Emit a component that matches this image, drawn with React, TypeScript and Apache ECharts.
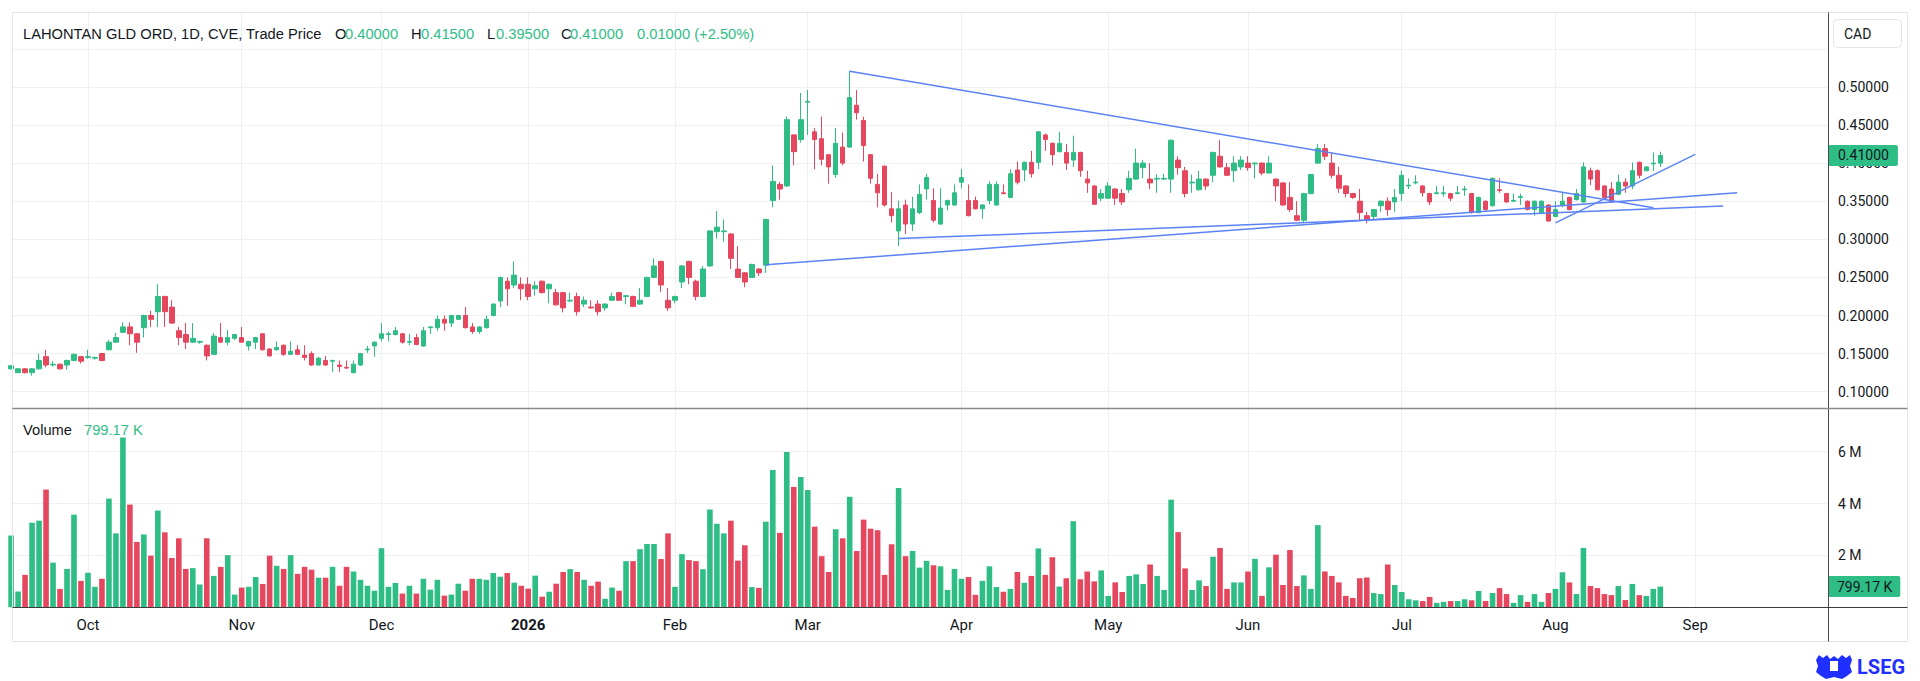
import React, { useEffect, useRef } from 'react';
import * as echarts from 'echarts';

// ---- trading-day calendar (day numbers per month) ----
const SEP_2025 = [16, 17, 18, 19, 22, 23, 24, 25, 26, 29, 30];
const OCT_2025 = [1, 2, 3, 6, 7, 8, 9, 10, 14, 15, 16, 17, 20, 21, 22, 23, 24, 27, 28, 29, 30, 31];
const NOV_2025 = [3, 4, 5, 6, 7, 10, 11, 12, 13, 14, 17, 18, 19, 20, 21, 24, 25, 26, 27, 28];
const DEC_2025 = [1, 2, 3, 4, 5, 8, 9, 10, 11, 12, 15, 16, 17, 18, 19, 22, 23, 24, 29, 30, 31];
const JAN_2026 = [2, 5, 6, 7, 8, 9, 12, 13, 14, 15, 16, 19, 20, 21, 22, 23, 26, 27, 28, 29, 30];
const FEB_2026 = [2, 3, 4, 5, 6, 9, 10, 11, 12, 13, 17, 18, 19, 20, 23, 24, 25, 26, 27];
const MAR_2026 = [2, 3, 4, 5, 6, 9, 10, 11, 12, 13, 16, 17, 18, 19, 20, 23, 24, 25, 26, 27, 30, 31];
const APR_2026 = [1, 2, 6, 7, 8, 9, 10, 13, 14, 15, 16, 17, 20, 21, 22, 23, 24, 27, 28, 29, 30];
const MAY_2026 = [1, 4, 5, 6, 7, 8, 11, 12, 13, 14, 15, 19, 20, 21, 22, 25, 26, 27, 28, 29];
const JUN_2026 = [1, 2, 3, 4, 5, 8, 9, 10, 11, 12, 15, 16, 17, 18, 19, 22, 23, 24, 25, 26, 29, 30];
const JUL_2026 = [2, 3, 6, 7, 8, 9, 10, 13, 14, 15, 16, 17, 20, 21, 22, 23, 24, 27, 28, 29, 30, 31];
const AUG_2026 = [4, 5, 6, 7, 10, 11, 12, 13, 14, 17, 18, 19, 20, 21, 24, 25, 26, 27, 28, 31];
const SEP_2026 = [1, 2, 3, 4, 8, 9, 10, 11, 14, 15, 16, 17, 18, 21, 22, 23, 24, 25, 28, 29];

const MONTHS: [number, number, number[]][] = [
  [2025, 9, SEP_2025], [2025, 10, OCT_2025], [2025, 11, NOV_2025], [2025, 12, DEC_2025],
  [2026, 1, JAN_2026], [2026, 2, FEB_2026], [2026, 3, MAR_2026], [2026, 4, APR_2026],
  [2026, 5, MAY_2026], [2026, 6, JUN_2026], [2026, 7, JUL_2026], [2026, 8, AUG_2026],
  [2026, 9, SEP_2026],
];
const MONTH_NAMES = ['Jan', 'Feb', 'Mar', 'Apr', 'May', 'Jun', 'Jul', 'Aug', 'Sep', 'Oct', 'Nov', 'Dec'];

// ---- daily prices (CAD) ----
const OPEN = [
  0.130, 0.125, 0.130, 0.125, 0.130, 0.146, 0.135, 0.136, 0.135, 0.141,
  0.146, 0.145, 0.144, 0.150, 0.155, 0.165, 0.178, 0.185, 0.176, 0.184,
  0.200, 0.205, 0.225, 0.211, 0.180, 0.175, 0.165, 0.165, 0.161, 0.149,
  0.171, 0.165, 0.170, 0.171, 0.160, 0.165, 0.176, 0.156, 0.155, 0.161,
  0.149, 0.155, 0.148, 0.150, 0.135, 0.141, 0.140, 0.135, 0.132, 0.125,
  0.135, 0.155, 0.160, 0.170, 0.175, 0.175, 0.176, 0.165, 0.171, 0.160,
  0.184, 0.184, 0.195, 0.190, 0.195, 0.200, 0.185, 0.179, 0.184, 0.200,
  0.219, 0.245, 0.240, 0.241, 0.241, 0.235, 0.245, 0.235, 0.230, 0.230,
  0.219, 0.225, 0.215, 0.211, 0.215, 0.210, 0.220, 0.230, 0.225, 0.225,
  0.215, 0.225, 0.250, 0.271, 0.220, 0.220, 0.244, 0.271, 0.245, 0.225,
  0.265, 0.310, 0.310, 0.307, 0.261, 0.256, 0.250, 0.261, 0.266, 0.351,
  0.372, 0.370, 0.437, 0.431, 0.480, 0.441, 0.432, 0.411, 0.385, 0.421,
  0.421, 0.476, 0.456, 0.411, 0.372, 0.396, 0.340, 0.311, 0.345, 0.320,
  0.335, 0.366, 0.351, 0.320, 0.345, 0.345, 0.375, 0.351, 0.351, 0.340,
  0.351, 0.345, 0.361, 0.355, 0.391, 0.391, 0.401, 0.401, 0.437, 0.426,
  0.415, 0.414, 0.404, 0.414, 0.379, 0.370, 0.354, 0.354, 0.366, 0.360,
  0.365, 0.379, 0.394, 0.379, 0.379, 0.379, 0.379, 0.404, 0.390, 0.374,
  0.365, 0.379, 0.384, 0.409, 0.394, 0.390, 0.395, 0.400, 0.399, 0.400,
  0.387, 0.379, 0.374, 0.355, 0.331, 0.325, 0.360, 0.400, 0.419, 0.400,
  0.384, 0.370, 0.360, 0.350, 0.331, 0.330, 0.344, 0.350, 0.349, 0.360,
  0.370, 0.374, 0.370, 0.360, 0.360, 0.360, 0.360, 0.360, 0.365, 0.360,
  0.335, 0.350, 0.344, 0.365, 0.360, 0.350, 0.355, 0.350, 0.339, 0.335,
  0.345, 0.330, 0.345, 0.355, 0.352, 0.349, 0.390, 0.390, 0.370, 0.366,
  0.359, 0.375, 0.370, 0.401, 0.390, 0.399, 0.400,
];
const CLOSE = [
  0.134, 0.130, 0.125, 0.130, 0.141, 0.135, 0.136, 0.130, 0.141, 0.149,
  0.140, 0.146, 0.145, 0.141, 0.165, 0.171, 0.185, 0.176, 0.165, 0.200,
  0.195, 0.225, 0.205, 0.190, 0.171, 0.165, 0.170, 0.166, 0.147, 0.173,
  0.165, 0.171, 0.175, 0.165, 0.166, 0.171, 0.155, 0.147, 0.158, 0.149,
  0.153, 0.149, 0.145, 0.135, 0.144, 0.135, 0.141, 0.133, 0.131, 0.136,
  0.150, 0.156, 0.165, 0.176, 0.176, 0.180, 0.165, 0.166, 0.162, 0.180,
  0.185, 0.195, 0.190, 0.200, 0.200, 0.184, 0.179, 0.185, 0.195, 0.215,
  0.250, 0.235, 0.253, 0.235, 0.225, 0.239, 0.230, 0.241, 0.214, 0.210,
  0.220, 0.205, 0.220, 0.210, 0.205, 0.215, 0.225, 0.220, 0.226, 0.212,
  0.220, 0.250, 0.265, 0.240, 0.210, 0.225, 0.265, 0.250, 0.225, 0.261,
  0.311, 0.316, 0.311, 0.275, 0.250, 0.244, 0.267, 0.256, 0.326, 0.376,
  0.366, 0.457, 0.415, 0.457, 0.481, 0.431, 0.405, 0.395, 0.426, 0.400,
  0.486, 0.466, 0.423, 0.380, 0.361, 0.345, 0.331, 0.340, 0.320, 0.340,
  0.359, 0.381, 0.325, 0.341, 0.351, 0.361, 0.381, 0.331, 0.340, 0.345,
  0.372, 0.372, 0.360, 0.386, 0.375, 0.401, 0.386, 0.441, 0.431, 0.411,
  0.426, 0.400, 0.414, 0.390, 0.374, 0.346, 0.360, 0.370, 0.354, 0.349,
  0.380, 0.400, 0.400, 0.374, 0.380, 0.380, 0.430, 0.394, 0.360, 0.375,
  0.379, 0.370, 0.414, 0.395, 0.384, 0.400, 0.404, 0.394, 0.400, 0.387,
  0.400, 0.370, 0.345, 0.339, 0.325, 0.360, 0.385, 0.419, 0.409, 0.384,
  0.367, 0.360, 0.355, 0.335, 0.325, 0.339, 0.350, 0.339, 0.355, 0.384,
  0.371, 0.375, 0.361, 0.349, 0.361, 0.361, 0.354, 0.361, 0.366, 0.335,
  0.355, 0.339, 0.380, 0.364, 0.349, 0.351, 0.356, 0.339, 0.350, 0.350,
  0.324, 0.339, 0.350, 0.339, 0.360, 0.395, 0.379, 0.365, 0.355, 0.349,
  0.375, 0.370, 0.390, 0.384, 0.395, 0.400, 0.410,
];
const LOW = [
  0.129, 0.125, 0.124, 0.121, 0.129, 0.132, 0.133, 0.129, 0.129, 0.140,
  0.137, 0.143, 0.142, 0.140, 0.154, 0.164, 0.177, 0.161, 0.151, 0.171,
  0.185, 0.185, 0.185, 0.189, 0.161, 0.156, 0.164, 0.163, 0.141, 0.148,
  0.164, 0.161, 0.168, 0.164, 0.154, 0.156, 0.154, 0.146, 0.154, 0.147,
  0.148, 0.148, 0.141, 0.134, 0.134, 0.134, 0.126, 0.126, 0.130, 0.124,
  0.134, 0.151, 0.146, 0.166, 0.166, 0.174, 0.163, 0.161, 0.161, 0.159,
  0.176, 0.180, 0.180, 0.185, 0.194, 0.183, 0.176, 0.176, 0.183, 0.199,
  0.211, 0.213, 0.236, 0.220, 0.220, 0.226, 0.229, 0.216, 0.213, 0.204,
  0.218, 0.200, 0.211, 0.209, 0.200, 0.206, 0.219, 0.219, 0.215, 0.211,
  0.214, 0.224, 0.249, 0.231, 0.206, 0.216, 0.236, 0.241, 0.220, 0.224,
  0.264, 0.301, 0.297, 0.261, 0.249, 0.237, 0.249, 0.252, 0.256, 0.342,
  0.352, 0.369, 0.397, 0.427, 0.437, 0.392, 0.397, 0.373, 0.381, 0.397,
  0.420, 0.457, 0.402, 0.373, 0.342, 0.343, 0.322, 0.291, 0.307, 0.311,
  0.333, 0.352, 0.322, 0.319, 0.338, 0.344, 0.367, 0.330, 0.339, 0.327,
  0.346, 0.344, 0.359, 0.354, 0.372, 0.376, 0.381, 0.392, 0.416, 0.397,
  0.414, 0.391, 0.395, 0.382, 0.361, 0.345, 0.350, 0.353, 0.345, 0.345,
  0.361, 0.378, 0.380, 0.366, 0.361, 0.378, 0.361, 0.385, 0.355, 0.361,
  0.364, 0.365, 0.375, 0.394, 0.383, 0.375, 0.391, 0.390, 0.380, 0.384,
  0.386, 0.350, 0.344, 0.336, 0.324, 0.321, 0.359, 0.399, 0.404, 0.380,
  0.361, 0.355, 0.353, 0.325, 0.321, 0.326, 0.336, 0.331, 0.336, 0.350,
  0.366, 0.372, 0.356, 0.345, 0.359, 0.356, 0.350, 0.359, 0.357, 0.334,
  0.334, 0.338, 0.343, 0.361, 0.348, 0.349, 0.345, 0.338, 0.331, 0.334,
  0.323, 0.329, 0.342, 0.338, 0.351, 0.348, 0.371, 0.364, 0.352, 0.348,
  0.358, 0.361, 0.366, 0.380, 0.389, 0.390, 0.395,
];
const HIGH = [
  0.135, 0.131, 0.131, 0.131, 0.150, 0.155, 0.140, 0.137, 0.142, 0.150,
  0.147, 0.155, 0.146, 0.151, 0.168, 0.177, 0.191, 0.191, 0.177, 0.201,
  0.206, 0.241, 0.226, 0.220, 0.185, 0.190, 0.190, 0.167, 0.162, 0.177,
  0.190, 0.181, 0.176, 0.185, 0.167, 0.172, 0.177, 0.157, 0.166, 0.162,
  0.166, 0.161, 0.161, 0.153, 0.146, 0.147, 0.142, 0.141, 0.141, 0.141,
  0.151, 0.160, 0.166, 0.190, 0.179, 0.185, 0.177, 0.176, 0.176, 0.185,
  0.186, 0.200, 0.200, 0.201, 0.201, 0.211, 0.190, 0.186, 0.200, 0.216,
  0.251, 0.250, 0.271, 0.250, 0.250, 0.245, 0.246, 0.242, 0.235, 0.231,
  0.230, 0.230, 0.225, 0.220, 0.220, 0.216, 0.230, 0.231, 0.227, 0.226,
  0.236, 0.251, 0.275, 0.272, 0.236, 0.226, 0.266, 0.272, 0.247, 0.265,
  0.312, 0.337, 0.326, 0.308, 0.291, 0.257, 0.268, 0.262, 0.327, 0.397,
  0.375, 0.461, 0.438, 0.492, 0.496, 0.446, 0.461, 0.412, 0.446, 0.440,
  0.521, 0.496, 0.461, 0.412, 0.386, 0.397, 0.362, 0.351, 0.352, 0.356,
  0.372, 0.386, 0.367, 0.367, 0.352, 0.372, 0.392, 0.372, 0.356, 0.346,
  0.376, 0.376, 0.372, 0.392, 0.402, 0.402, 0.416, 0.442, 0.439, 0.427,
  0.441, 0.425, 0.436, 0.415, 0.390, 0.371, 0.366, 0.375, 0.367, 0.366,
  0.390, 0.419, 0.404, 0.400, 0.385, 0.386, 0.431, 0.409, 0.395, 0.385,
  0.390, 0.380, 0.415, 0.430, 0.400, 0.409, 0.409, 0.409, 0.401, 0.401,
  0.409, 0.380, 0.375, 0.375, 0.350, 0.361, 0.386, 0.425, 0.425, 0.414,
  0.395, 0.371, 0.361, 0.366, 0.336, 0.340, 0.351, 0.355, 0.366, 0.390,
  0.380, 0.384, 0.371, 0.361, 0.370, 0.370, 0.361, 0.370, 0.370, 0.361,
  0.356, 0.351, 0.381, 0.380, 0.361, 0.360, 0.360, 0.351, 0.351, 0.351,
  0.346, 0.350, 0.361, 0.356, 0.366, 0.401, 0.394, 0.392, 0.371, 0.375,
  0.385, 0.380, 0.401, 0.402, 0.396, 0.414, 0.415,
];
// ---- daily volume, millions of shares ----
const VOLUME_M = [
  2.77, 0.61, 1.25, 3.26, 3.34, 4.54, 1.72, 0.71, 1.48, 3.57,
  1.02, 1.33, 0.79, 1.10, 4.19, 2.85, 6.55, 3.96, 2.52, 2.81,
  1.99, 3.73, 2.89, 1.90, 2.66, 1.48, 1.51, 0.88, 2.66, 1.21,
  1.56, 2.01, 0.49, 0.76, 0.79, 1.17, 0.90, 1.99, 1.60, 1.48,
  2.01, 1.29, 1.56, 1.45, 1.14, 1.14, 1.56, 0.83, 1.56, 1.38,
  1.06, 0.83, 0.64, 2.28, 0.79, 0.94, 0.53, 0.83, 0.53, 1.10,
  0.68, 1.06, 0.45, 0.49, 0.91, 0.64, 1.10, 1.10, 1.06, 1.32,
  1.18, 1.32, 0.95, 0.83, 0.72, 1.22, 0.41, 0.60, 0.91, 1.36,
  1.47, 1.36, 1.06, 0.83, 0.99, 0.33, 0.76, 0.64, 1.78, 1.78,
  2.24, 2.44, 2.44, 1.86, 2.85, 0.79, 2.05, 1.82, 1.78, 1.47,
  3.77, 3.22, 2.85, 3.34, 1.80, 2.39, 0.78, 0.75, 3.30, 5.29,
  2.87, 5.99, 4.64, 5.02, 4.52, 3.11, 1.97, 1.36, 3.01, 2.66,
  4.26, 2.17, 3.38, 3.03, 2.97, 1.25, 2.43, 4.60, 1.97, 2.17,
  1.53, 1.79, 1.62, 1.58, 0.67, 1.48, 1.10, 1.17, 0.48, 1.02,
  1.58, 0.78, 0.60, 0.71, 1.36, 0.95, 1.21, 2.27, 1.25, 1.93,
  0.80, 1.12, 3.32, 1.08, 1.38, 1.00, 1.42, 0.44, 0.96, 0.59,
  1.21, 1.27, 0.90, 1.65, 1.21, 0.67, 4.15, 2.90, 1.50, 0.67,
  1.04, 0.82, 1.95, 2.29, 0.71, 0.96, 0.96, 1.38, 1.87, 0.44,
  1.54, 2.03, 0.86, 2.21, 0.82, 1.23, 0.71, 3.17, 1.38, 1.21,
  0.96, 0.44, 0.36, 1.12, 1.15, 0.55, 0.51, 1.65, 0.86, 0.59,
  0.31, 0.27, 0.24, 0.40, 0.17, 0.21, 0.24, 0.24, 0.31, 0.27,
  0.63, 0.24, 0.55, 0.74, 0.51, 0.17, 0.47, 0.21, 0.51, 0.21,
  0.55, 0.71, 1.35, 0.96, 0.51, 2.29, 0.82, 0.74, 0.51, 0.47,
  0.82, 0.28, 0.90, 0.47, 0.44, 0.71, 0.79917,
];
// ---- drawn trend lines: [date, price] -> [date, price] ----
const TREND_LINES: [string, number][][] = [
  [['2026-03-10', 0.5206], ['2026-08-24', 0.3415]],
  [['2026-02-20', 0.2665], ['2026-09-10', 0.3612]],
  [['2026-03-19', 0.3009], ['2026-09-08', 0.3437]],
  [['2026-08-04', 0.3215], ['2026-09-01', 0.4115]],
];
const PRICE_TICKS_SHOWN = [0.10, 0.15, 0.20, 0.25, 0.30, 0.35, 0.40, 0.45, 0.50];

const UP = '#2ebd85';
const DOWN = '#e5475f';
const TEXT = '#131722';
const GRID = '#eef0f3';
const TREND = '#5b82f5';
const FONT = 'Roboto, "Noto Sans", sans-serif';
const TITLE_FONT = '"Liberation Sans", Arial, sans-serif';

const pad = (n: number) => (n < 10 ? '0' + n : '' + n);
const DATES: string[] = [];
MONTHS.forEach(([y, m, days]) => days.forEach((d) => DATES.push(`${y}-${pad(m)}-${pad(d)}`)));
const isMonthStart = (i: number) => i > 0 && DATES[i].slice(0, 7) !== DATES[i - 1].slice(0, 7);

function buildOption(): any {
  const n = CLOSE.length;
  const candles = OPEN.map((o, i) => [o, CLOSE[i], LOW[i], HIGH[i]]);
  const vols = VOLUME_M.map((v, i) => ({
    value: v * 1e6,
    itemStyle: { color: CLOSE[i] >= OPEN[i] ? UP : DOWN },
  }));
  const lastO = OPEN[n - 1], lastH = HIGH[n - 1], lastL = LOW[n - 1], lastC = CLOSE[n - 1];
  const chg = lastC - CLOSE[n - 2];
  const pct = (chg / CLOSE[n - 2]) * 100;
  const lastVol = VOLUME_M[n - 1];
  const lastVolText = (lastVol * 1000).toFixed(2) + ' K';

  const splitColors = [];
  for (let v = 0.05; v <= 0.6001; v += 0.05) {
    splitColors.push(v < 0.075 || v > 0.575 ? 'rgba(0,0,0,0)' : GRID);
  }

  const txt = (x: number, y: number, text: string, fill: string, extra: any = {}) => ({
    type: 'text', x, y, z: 100, silent: true,
    style: { text, fill, fontSize: 14.7, fontFamily: TITLE_FONT, verticalAlign: 'middle', align: 'left', ...extra },
  });

  const xCommon = {
    type: 'category',
    data: DATES,
    boundaryGap: false,
    axisLine: { show: false },
    axisTick: { show: false },
    splitLine: { show: true, interval: (i: number) => isMonthStart(i), lineStyle: { color: GRID, width: 1 } },
  };

  return {
    animation: false,
    backgroundColor: '#ffffff',
    grid: [
      { left: 11.1, right: 92, top: 10.7, bottom: 251.2 },
      { left: 11.1, right: 92, top: 408.5, bottom: 73.7 },
    ],
    xAxis: [
      { ...xCommon, gridIndex: 0, axisLabel: { show: false } },
      {
        ...xCommon,
        gridIndex: 1,
        axisLabel: {
          show: true,
          interval: (i: number) => isMonthStart(i),
          margin: 10,
          color: TEXT,
          fontSize: 15,
          fontFamily: FONT,
          formatter: (val: string) => {
            const y = val.slice(0, 4);
            const m = parseInt(val.slice(5, 7), 10);
            return m === 1 ? `{b|${y}}` : MONTH_NAMES[m - 1];
          },
          rich: { b: { fontWeight: 'bold', fontSize: 15, color: TEXT, fontFamily: FONT } },
        },
      },
    ],
    yAxis: [
      {
        type: 'value', gridIndex: 0, position: 'right', scale: true,
        min: 0.05, max: 0.6, interval: 0.05,
        axisLine: { show: false }, axisTick: { show: false },
        axisLabel: {
          color: TEXT, fontSize: 14, fontFamily: FONT, margin: 10,
          formatter: (v: number) =>
            PRICE_TICKS_SHOWN.some((t) => Math.abs(t - v) < 1e-6) ? v.toFixed(5) : '',
        },
        splitLine: { show: true, lineStyle: { color: splitColors, width: 1 } },
      },
      {
        type: 'value', gridIndex: 1, position: 'right',
        min: 0, max: 7.664e6, interval: 2e6,
        axisLine: { show: false }, axisTick: { show: false },
        axisLabel: {
          color: TEXT, fontSize: 14, fontFamily: FONT, margin: 10,
          formatter: (v: number) => (v <= 0 || v > 7e6 ? '' : v / 1e6 + ' M'),
        },
        splitLine: { show: true, lineStyle: { color: GRID, width: 1 } },
      },
    ],
    series: [
      {
        type: 'candlestick',
        xAxisIndex: 0, yAxisIndex: 0,
        data: candles,
        barWidth: 5,
        itemStyle: { color: UP, color0: DOWN, borderColor: UP, borderColor0: DOWN, borderWidth: 1 },
        markLine: {
          silent: true, symbol: ['none', 'none'], animation: false,
          lineStyle: { color: 'rgba(0,0,0,0)', width: 0 },
          data: [{ yAxis: lastC }],
          label: {
            show: true, position: 'end', distance: 0,
            formatter: lastC.toFixed(5),
            color: TEXT, backgroundColor: UP, padding: [4, 9, 3, 10], borderRadius: 2,
            fontSize: 14, fontFamily: FONT,
          },
        },
      },
      ...TREND_LINES.map((seg) => ({
        type: 'line',
        xAxisIndex: 0, yAxisIndex: 0,
        data: seg,
        symbol: 'none', showSymbol: false, silent: true, z: 5,
        lineStyle: { color: TREND, width: 1.5 },
      })),
      {
        type: 'bar',
        xAxisIndex: 1, yAxisIndex: 1,
        data: vols,
        barWidth: 5.6,
        markLine: {
          silent: true, symbol: ['none', 'none'], animation: false,
          lineStyle: { color: 'rgba(0,0,0,0)', width: 0 },
          data: [{ yAxis: lastVol * 1e6 }],
          label: {
            show: true, position: 'end', distance: 0,
            formatter: lastVolText,
            color: TEXT, backgroundColor: UP, padding: [4, 8, 3, 9], borderRadius: 2,
            fontSize: 14, fontFamily: FONT,
          },
        },
      },
    ],
    graphic: [
      // frame and pane separators
      { type: 'rect', z: 100, silent: true, shape: { x: 12.5, y: 12.5, width: 1895, height: 629 }, style: { fill: 'none', stroke: '#e3e5ea', lineWidth: 1 } },
      { type: 'line', z: 100, silent: true, shape: { x1: 1828.5, y1: 12.5, x2: 1828.5, y2: 641.5 }, style: { stroke: '#4a4a4a', lineWidth: 1 } },
      { type: 'line', z: 100, silent: true, shape: { x1: 12.5, y1: 408.5, x2: 1907.5, y2: 408.5 }, style: { stroke: '#8a8a8a', lineWidth: 1.6 } },
      { type: 'line', z: 100, silent: true, shape: { x1: 12.5, y1: 607.5, x2: 1907.5, y2: 607.5 }, style: { stroke: '#3c3c3c', lineWidth: 1 } },
      // currency box
      { type: 'rect', z: 100, silent: true, shape: { x: 1833.5, y: 19.5, width: 68, height: 28, r: 4 }, style: { fill: '#ffffff', stroke: '#e3e5ea', lineWidth: 1 } },
      txt(1844, 33.5, 'CAD', TEXT, { fontSize: 14, fontFamily: FONT }),
      // legend row
      txt(23, 33.5, 'LAHONTAN GLD ORD, 1D, CVE, Trade Price', TEXT),
      txt(335, 33.5, 'O', TEXT),
      txt(345, 33.5, lastO.toFixed(5), UP),
      txt(411, 33.5, 'H', TEXT),
      txt(421, 33.5, lastH.toFixed(5), UP),
      txt(487, 33.5, 'L', TEXT),
      txt(496, 33.5, lastL.toFixed(5), UP),
      txt(561, 33.5, 'C', TEXT),
      txt(570, 33.5, lastC.toFixed(5), UP),
      txt(637, 33.5, `${chg.toFixed(5)} (+${pct.toFixed(2)}%)`, UP),
      // volume legend
      txt(23, 430, 'Volume', TEXT),
      txt(84, 430, lastVolText, UP),
      // LSEG mark
      {
        type: 'polygon', z: 100, silent: true,
        shape: {
          points: [
            [1816, 660], [1819, 655], [1823, 658], [1827, 655], [1830, 659], [1834, 656],
            [1838, 659], [1842, 655], [1846, 658], [1850, 655], [1852, 660], [1850, 666],
            [1852, 672], [1847, 676], [1842, 679], [1834, 677], [1826, 679], [1821, 676],
            [1816, 672], [1818, 666],
          ],
        },
        style: { fill: '#1f2fff' },
      },
      { type: 'rect', z: 101, silent: true, shape: { x: 1830, y: 661, width: 8, height: 10 }, style: { fill: '#ffffff' } },
      txt(1857, 667, 'LSEG', '#1f2fff', { fontSize: 20, fontWeight: 'bold', fontFamily: FONT }),
    ],
  };
}

export default function App() {
  const ref = useRef<HTMLDivElement>(null);
  useEffect(() => {
    document.body.style.margin = '0';
    const chart = echarts.init(ref.current as HTMLDivElement, null, { renderer: 'svg' });
    chart.setOption(buildOption());
    return () => chart.dispose();
  }, []);
  return <div ref={ref} style={{ width: 1920, height: 681 }} />;
}
